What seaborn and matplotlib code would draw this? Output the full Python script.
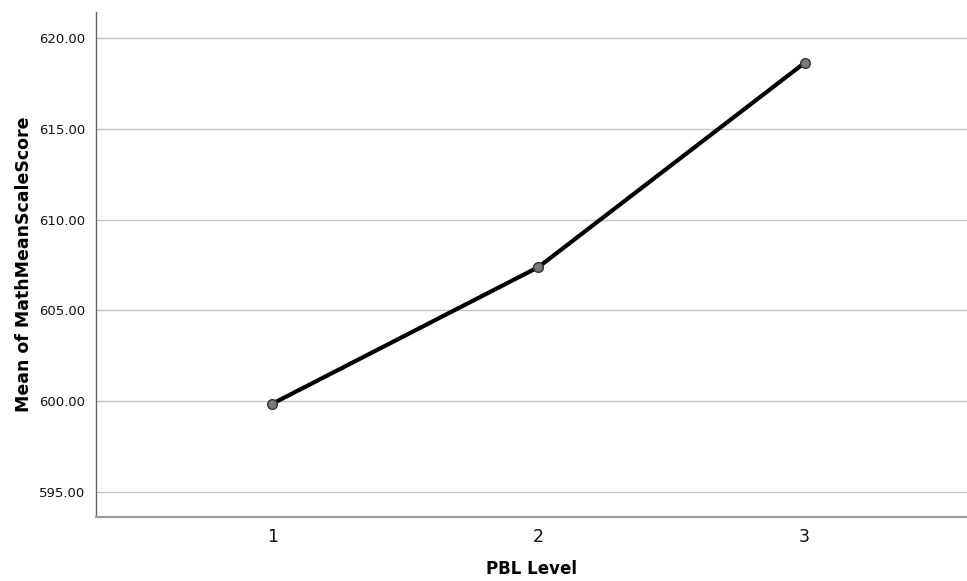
import matplotlib
matplotlib.use("Agg")
import matplotlib.pyplot as plt
import seaborn as sns
import pandas as pd

# ── Données ───────────────────────────────────────────────────────────────────
pbl_levels = [1, 2, 3]
mean_scores = [599.86, 607.39, 618.64]
y_ticks = [595, 600, 605, 610, 615, 620]

df = pd.DataFrame({"PBL Level": pbl_levels, "score": mean_scores})

sns.set_theme(style="white")
plt.rcParams["font.family"] = ["DejaVu Sans"]

fig = plt.figure(figsize=(9.67, 5.81), dpi=100)
fig.patch.set_facecolor("white")
ax = fig.add_axes([0.0993, 0.110, 0.9007, 0.869])

for t in y_ticks:
    ax.axhline(t, color="#c4c4c4", linewidth=1.0, zorder=0)

sns.lineplot(
    data=df, x="PBL Level", y="score", ax=ax,
    color="black", linewidth=3, marker="o", markersize=7,
    markerfacecolor="#7a7a7a", markeredgecolor="#333333", markeredgewidth=1.0,
)

ax.set_xlim(0.338, 3.61)
ax.set_ylim(593.62, 621.43)
ax.set_xticks(pbl_levels)
ax.set_xticklabels([str(v) for v in pbl_levels], fontsize=12.5, color="#111111")
ax.set_yticks(y_ticks)
ax.set_yticklabels([f"{v:.2f}" for v in y_ticks], fontsize=9.5, color="#111111")
ax.tick_params(axis="both", length=0, pad=8)

ax.set_xlabel("PBL Level", fontsize=12, fontweight="bold", labelpad=10, color="black")
ax.set_ylabel("Mean of MathMeanScaleScore", fontsize=12.5, fontweight="bold", labelpad=4, color="black")

for side in ("top", "right"):
    ax.spines[side].set_visible(False)
ax.spines["left"].set_color("#666666")
ax.spines["left"].set_linewidth(1.0)
ax.spines["bottom"].set_color("#999999")
ax.spines["bottom"].set_linewidth(1.6)

fig.savefig("out.png", dpi=100)
plt.close(fig)
